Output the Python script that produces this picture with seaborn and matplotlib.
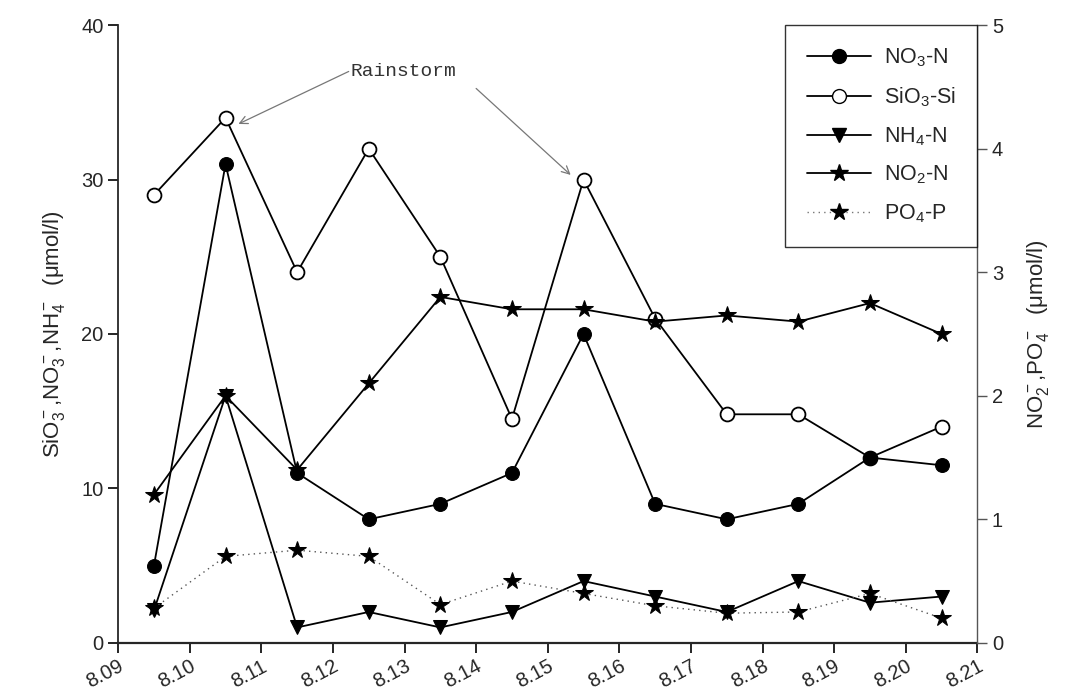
import matplotlib
matplotlib.use("Agg")
import matplotlib.pyplot as plt
import matplotlib.transforms as mtransforms
import seaborn as sns
import numpy as np
from matplotlib.lines import Line2D

sns.set_style("ticks")
plt.rcParams['font.family'] = ['Liberation Sans', 'DejaVu Sans']
plt.rcParams['mathtext.fontset'] = 'custom'
plt.rcParams['mathtext.rm'] = 'Liberation Sans'
plt.rcParams['mathtext.it'] = 'Liberation Sans:italic'

# ---- data ----
tick_labels = ["8.09", "8.10", "8.11", "8.12", "8.13", "8.14", "8.15",
               "8.16", "8.17", "8.18", "8.19", "8.20", "8.21"]
x_pos = [0.5, 1.5, 2.5, 3.5, 4.5, 5.5, 6.5, 7.5, 8.5, 9.5, 10.5, 11.5]

no3_n = [5, 31, 11, 8, 9, 11, 20, 9, 8, 9, 12, 11.5]
sio3_si = [29, 34, 24, 32, 25, 14.5, 30, 21, 14.8, 14.8, 12, 14]
nh4_n = [2.1, 16, 1, 2, 1, 2, 4, 3, 2, 4, 2.6, 3]
no2_n = [1.2, 2.0, 1.4, 2.1, 2.8, 2.7, 2.7, 2.6, 2.65, 2.6, 2.75, 2.5]
po4_p = [0.28, 0.70, 0.75, 0.70, 0.31, 0.50, 0.40, 0.30, 0.24, 0.25, 0.40, 0.20]

fig = plt.figure(figsize=(10.74, 6.98), dpi=100)
ax = fig.add_axes([0.110, 0.079, 0.800, 0.885])
ax2 = ax.twinx()

lw = 1.3
sns.lineplot(x=x_pos, y=sio3_si, ax=ax, color='black', lw=lw, marker='o',
             markersize=10, markerfacecolor='white', markeredgecolor='black',
             markeredgewidth=1.3, zorder=3)
sns.lineplot(x=x_pos, y=no3_n, ax=ax, color='black', lw=lw, marker='o',
             markersize=10, markerfacecolor='black', markeredgecolor='black', zorder=4)
sns.lineplot(x=x_pos, y=nh4_n, ax=ax, color='black', lw=lw, marker='v',
             markersize=10, markerfacecolor='black', markeredgecolor='black', zorder=4)
sns.lineplot(x=x_pos, y=no2_n, ax=ax2, color='black', lw=lw, marker='*',
             markersize=13, markerfacecolor='black', markeredgecolor='black', zorder=4)
sns.lineplot(x=x_pos, y=po4_p, ax=ax2, color='#555555', lw=1.0, ls=(0, (1, 3)),
             marker='*', markersize=13, markerfacecolor='black',
             markeredgecolor='black', zorder=4)

ax.set_xlim(0, 12)
ax.set_ylim(0, 40)
ax2.set_ylim(0, 5)
ax.set_xticks(range(13))
ax.set_xticklabels(tick_labels, rotation=28, ha='right', va='top',
                   rotation_mode='anchor', fontsize=14.5)
ax.set_yticks([0, 10, 20, 30, 40])
ax2.set_yticks([0, 1, 2, 3, 4, 5])
ax.tick_params(axis='y', labelsize=14.5, length=7, width=1.2, direction='out', color='black')
ax.tick_params(axis='x', length=7, width=1.2, direction='out', color='black', pad=3)
ax2.tick_params(axis='y', labelsize=14.5, length=7, width=1.0, direction='out', color='#555555')

for a in (ax, ax2):
    a.spines['top'].set_visible(False)
ax.spines['left'].set_linewidth(1.3)
ax.spines['bottom'].set_linewidth(1.6)
ax.spines['right'].set_visible(False)
ax2.spines['left'].set_visible(False)
ax2.spines['bottom'].set_visible(False)
ax2.spines['right'].set_color('#555555')
ax2.spines['right'].set_linewidth(1.0)

ax.set_ylabel(r"SiO$_3^-$,NO$_3^-$,NH$_4^-$  (μmol/l)", fontsize=16, labelpad=10)
ax2.set_ylabel(r"NO$_2^-$,PO$_4^-$  (μmol/l)", fontsize=16, labelpad=16)

# legend
handles = [
    Line2D([], [], color='black', lw=lw, marker='o', markersize=10, markerfacecolor='black'),
    Line2D([], [], color='black', lw=lw, marker='o', markersize=10, markerfacecolor='white',
           markeredgecolor='black'),
    Line2D([], [], color='black', lw=lw, marker='v', markersize=10, markerfacecolor='black'),
    Line2D([], [], color='black', lw=lw, marker='*', markersize=13, markerfacecolor='black'),
    Line2D([], [], color='#777777', lw=1.0, ls=(0, (1, 3)), marker='*', markersize=13,
           markerfacecolor='black', markeredgecolor='black'),
]
labels = ["NO$_3$-N", "SiO$_3$-Si", "NH$_4$-N", "NO$_2$-N", "PO$_4$-P"]
leg = ax2.legend(handles, labels, loc='upper right', bbox_to_anchor=(1.0, 1.0),
                 fontsize=15.5, frameon=True, fancybox=False, edgecolor='black',
                 handlelength=3.0, labelspacing=0.75, borderpad=1.0,
                 handletextpad=0.6, borderaxespad=0)
leg.get_frame().set_linewidth(1.0)

# annotations
ax.annotate("", xy=(1.68, 33.6), xytext=(3.22, 37.0),
            arrowprops=dict(arrowstyle='->', color='#777777', lw=0.9,
                            shrinkA=0, shrinkB=0, mutation_scale=14))
ax.annotate("", xy=(6.32, 30.3), xytext=(5.0, 35.9),
            arrowprops=dict(arrowstyle='->', color='#777777', lw=0.9,
                            shrinkA=0, shrinkB=0, mutation_scale=14))
ax.text(3.24, 37.0, "Rainstorm", fontsize=14, family='Liberation Mono',
        color='#333333', va='center', ha='left')

fig.savefig("out.png", dpi=100)
